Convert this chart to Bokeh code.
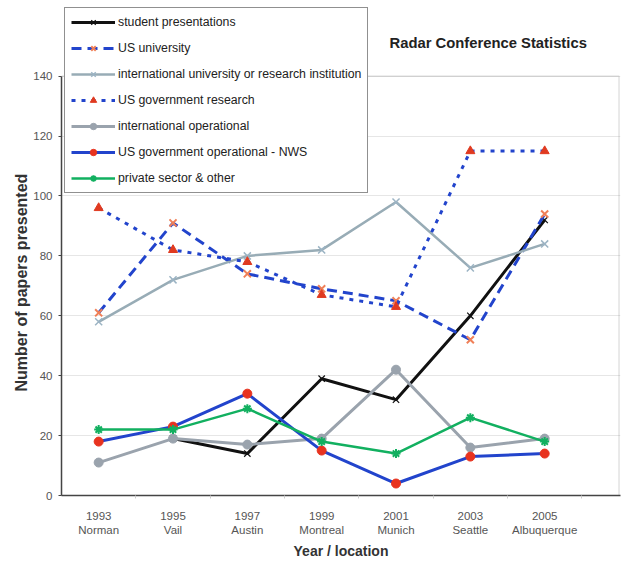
from bokeh.plotting import figure
from bokeh.models import Range1d, FixedTicker, Legend, LegendItem, Label, BoxAnnotation, Title
from bokeh.embed import file_html
from bokeh.resources import INLINE

nan = float("nan")

years = ["1993", "1995", "1997", "1999", "2001", "2003", "2005"]
locations = ["Norman", "Vail", "Austin", "Montreal", "Munich", "Seattle", "Albuquerque"]

student_presentations = [nan, 19, 14, 39, 32, 60, 92]
us_university = [61, 91, 74, 69, 65, 52, 94]
intl_university = [58, 72, 80, 82, 98, 76, 84]
us_gov_research = [96, 82, 78, 67, 63, 115, 115]
intl_operational = [11, 19, 17, 19, 42, 16, 19]
us_gov_operational_nws = [18, 23, 34, 15, 4, 13, 14]
private_sector = [22, 22, 29, 18, 14, 26, 18]

y_ticks = [0, 20, 40, 60, 80, 100, 120, 140]
y_max = 140

xs = list(range(len(years)))
FONT = "Liberation Sans"
BLUE = "#2244cc"

# frame spans the whole height so the legend / title (which sit above the 140 line) are not clipped
p = figure(width=623, height=561, output_backend="svg", toolbar_location=None,
           x_range=Range1d(-0.5, 7.02), y_range=Range1d(0, y_max * 497 / 421),
           min_border_left=61, min_border_right=3, min_border_top=0, min_border_bottom=64,
           background_fill_color="white", border_fill_color="white")

p.outline_line_color = None
p.xgrid.grid_line_color = None
p.ygrid.grid_line_color = "#e6e6e6"
p.ygrid.grid_line_width = 1

frame_box = BoxAnnotation(left=-0.5, right=7.0, bottom=0, top=y_max, fill_color=None, fill_alpha=0,
                          line_color="#8a8a8a", line_width=1.2, level="underlay")
p.add_layout(frame_box)

p.xaxis.ticker = FixedTicker(ticks=xs, minor_ticks=[i + 0.5 for i in xs])
p.xaxis.major_label_overrides = {i: f"{y}\n{l}" for i, (y, l) in enumerate(zip(years, locations))}
p.xaxis.major_tick_in = 0
p.xaxis.major_tick_out = 0
p.xaxis.minor_tick_in = 0
p.xaxis.minor_tick_out = 3
p.xaxis.minor_tick_line_color = "#cccccc"
p.xaxis.axis_line_color = "#444444"
p.xaxis.axis_line_width = 1.5
p.xaxis.major_label_text_font = FONT
p.xaxis.major_label_text_font_size = "11.5px"
p.xaxis.major_label_text_color = "#555555"
p.xaxis.major_label_text_line_height = 1.2
p.xaxis.major_label_standoff = 11
p.xaxis.axis_label = "Year / location"
p.xaxis.axis_label_text_font = FONT
p.xaxis.axis_label_text_font_size = "14px"
p.xaxis.axis_label_text_font_style = "bold"
p.xaxis.axis_label_text_color = "#333333"
p.xaxis.axis_label_standoff = 4

p.yaxis.ticker = FixedTicker(ticks=y_ticks)
p.yaxis.bounds = (0, y_max)
p.yaxis.major_tick_in = 0
p.yaxis.major_tick_out = 3
p.yaxis.major_tick_line_color = "#444444"
p.yaxis.minor_tick_line_color = None
p.yaxis.axis_line_color = "#444444"
p.yaxis.axis_line_width = 1.5
p.yaxis.major_label_text_font = FONT
p.yaxis.major_label_text_font_size = "11.5px"
p.yaxis.major_label_text_color = "#555555"
p.yaxis.major_label_standoff = 6

# y axis title as a side title so it can be placed along the 0-140 part of the axis
ytitle = Title(text="Number of papers presented", align="left", offset=104,
               text_font=FONT, text_font_size="16px", text_font_style="bold",
               text_color="#333333", standoff=2)
p.add_layout(ytitle, "left")

items = []

def series(label, ys, color, dash, lw, marker, mcolor, msize, mlw, mfill):
    r1 = p.line(xs, ys, line_color=color, line_width=lw, line_dash=dash)
    r2 = p.scatter(xs, ys, marker=marker, size=msize, line_color=mcolor, line_width=mlw,
                   fill_color=mfill if mfill else None)
    items.append(LegendItem(label=label, renderers=[r1, r2]))

series("student presentations", student_presentations, "#111111", "solid", 3, "x", "#111111", 9, 1.2, None)
series("US university", us_university, BLUE, "10 6", 3, "x", "#f08058", 10, 2, None)
series("international university or research institution", intl_university, "#98acb6", "solid", 2.5, "x", "#9cb4c4", 10, 1.5, None)
series("US government research", us_gov_research, BLUE, "4 6", 3, "triangle", "#e03a20", 9, 1, "#e03a20")
series("international operational", intl_operational, "#9aa3ad", "solid", 3, "circle", "#9aa3ad", 9, 1, "#9aa3ad")
series("US government operational - NWS", us_gov_operational_nws, BLUE, "solid", 3, "circle", "#e8331f", 9, 1, "#e8331f")
series("private sector & other", private_sector, "#12b060", "solid", 2.5, "asterisk", "#12b060", 9, 2, None)

legend = Legend(items=items, location=(3, 302), orientation="vertical",
                label_text_font=FONT, label_text_font_size="12.3px", label_text_color="#222222",
                glyph_width=44, glyph_height=16, label_height=16, spacing=10, padding=6,
                label_standoff=3, border_line_color="#222222", border_line_width=1.5,
                background_fill_color="white", background_fill_alpha=1.0, margin=0)
p.add_layout(legend, "center")

title = Label(x=328, y=453, x_units="screen", y_units="screen", text="Radar Conference Statistics",
              text_font=FONT, text_font_size="14.8px", text_font_style="bold", text_color="#222222",
              text_align="left", text_baseline="middle")
p.add_layout(title)

open("out.html", "w").write(file_html(p, INLINE))
